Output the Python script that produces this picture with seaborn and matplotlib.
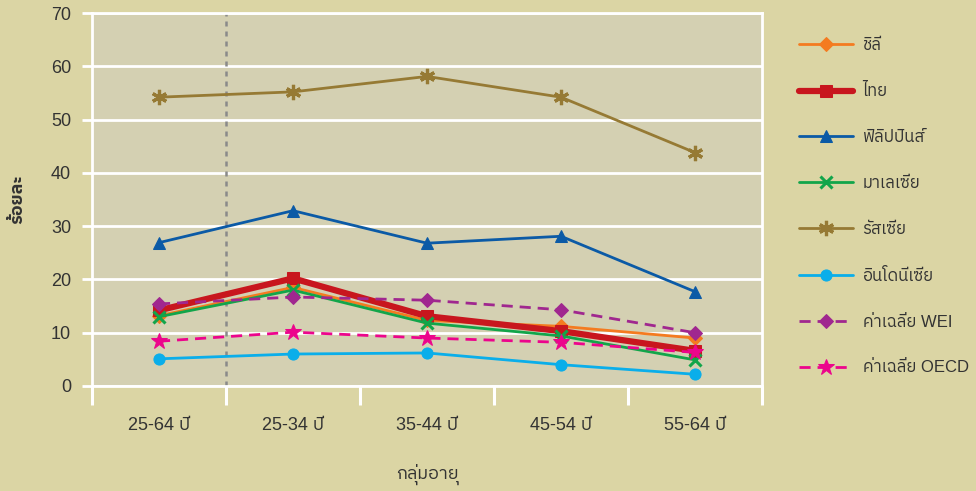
import matplotlib
matplotlib.use("Agg")
import matplotlib.pyplot as plt
from matplotlib import font_manager, ft2font
from matplotlib.ticker import FixedLocator
import seaborn as sns
import pandas as pd

# Age groups on the x axis
age_groups = ["25-64 ปี", "25-34 ปี", "35-44 ปี", "45-54 ปี", "55-64 ปี"]

# Percentages per country / benchmark
chile = [13.2, 18.5, 12.3, 11.2, 9.0]
thailand = [14.2, 20.2, 13.1, 10.3, 6.6]
philippines = [26.9, 32.9, 26.8, 28.1, 17.7]
malaysia = [13.0, 18.0, 11.8, 9.4, 4.9]
russia = [54.2, 55.2, 58.1, 54.2, 43.8]
indonesia = [5.1, 6.0, 6.2, 4.0, 2.2]
wei_avg = [15.4, 16.7, 16.1, 14.3, 10.0]
oecd_avg = [8.4, 10.1, 9.0, 8.2, 6.3]

series_names = ["ชิลี", "ไทย", "ฟิลิปปินส์", "มาเลเซีย", "รัสเซีย",
                "อินโดนีเซีย", "ค่าเฉลี่ย WEI", "ค่าเฉลี่ย OECD"]
series_values = [chile, thailand, philippines, malaysia, russia,
                 indonesia, wei_avg, oecd_avg]

x_title = "กลุ่มอายุ"
y_title = "ร้อยละ"
y_ticks = [0, 10, 20, 30, 40, 50, 60, 70]


def find_thai_family():
    preferred = []
    others = []
    for f in font_manager.fontManager.ttflist:
        try:
            cmap = ft2font.FT2Font(f.fname).get_charmap()
        except Exception:
            continue
        if 0x0E23 in cmap and 0x0E1B in cmap:
            if "sans" in f.name.lower() and "mono" not in f.name.lower():
                preferred.append(f.name)
            else:
                others.append(f.name)
    for lst in (preferred, others):
        if lst:
            return lst[0]
    return None


sns.set_theme(style="white")
thai = find_thai_family()
families = ["Liberation Sans"]
if thai:
    families.append(thai)
families.append("DejaVu Sans")
plt.rcParams["font.family"] = families

OUTER_BG = "#DBD5A4"
PLOT_BG = "#D4D0B2"
TEXT = "#333333"

styles = [
    dict(color="#F47B20", marker="D", markersize=7, linewidth=2.0, linestyle="-"),
    dict(color="#C8161E", marker="s", markersize=8, linewidth=4.5, linestyle="-"),
    dict(color="#0B5AA6", marker="^", markersize=9, linewidth=2.0, linestyle="-"),
    dict(color="#12A54A", marker="x", markersize=9, markeredgewidth=2.2, linewidth=2.0, linestyle="-"),
    dict(color="#967A34", marker=(6, 2, 0), markersize=11, markeredgewidth=2.3, linewidth=2.0, linestyle="-"),
    dict(color="#0AAEEA", marker="o", markersize=8, linewidth=2.0, linestyle="-"),
    dict(color="#A0278F", marker="D", markersize=7, linewidth=2.0, linestyle=(0, (4, 2.5))),
    dict(color="#EC058C", marker="*", markersize=12, linewidth=2.0, linestyle=(0, (4, 2.5))),
]

rows = []
for name, vals in zip(series_names, series_values):
    for g, v in zip(age_groups, vals):
        rows.append({"group": g, "value": v, "series": name})
df = pd.DataFrame(rows)

fig = plt.figure(figsize=(9.76, 4.91), dpi=100, facecolor=OUTER_BG)
ax = fig.add_axes([92 / 976, 1 - 386 / 491, (762 - 92) / 976, (386 - 13) / 491])
ax.set_facecolor(PLOT_BG)

# reference divider between the overall group and the age bands
ax.axvline(0.5, color="#8A8A8A", linestyle=(0, (2, 2)), linewidth=1.8, zorder=1)

for name, st in zip(series_names, styles):
    sub = df[df["series"] == name]
    sns.lineplot(data=sub, x="group", y="value", ax=ax, label=name,
                 markeredgecolor=st["color"], zorder=3, **st)

ax.set_xlim(-0.5, 4.5)
ax.set_ylim(0, 70)
ax.set_yticks(y_ticks)
ax.set_yticklabels([str(t) for t in y_ticks], fontsize=13, color=TEXT)
ax.yaxis.grid(True, color="white", linewidth=2)
ax.set_axisbelow(True)

ax.set_xticks(range(len(age_groups)))
ax.set_xticklabels(age_groups, fontsize=13, color=TEXT)
ax.xaxis.set_minor_locator(FixedLocator([i - 0.5 for i in range(len(age_groups) + 1)]))
ax.tick_params(axis="x", which="major", length=0, pad=22)
ax.tick_params(axis="x", which="minor", length=14, width=2.2, color="white", bottom=True)
ax.tick_params(axis="y", which="major", length=7, width=2, color="white", left=True, pad=8)

for s in ax.spines.values():
    s.set_color("white")
    s.set_linewidth(2)

ax.set_xlabel(x_title, fontsize=13, color=TEXT, labelpad=22)
ax.set_ylabel(y_title, fontsize=13, color=TEXT, fontweight="bold", labelpad=18)

handles, labels = ax.get_legend_handles_labels()
ax.legend_.remove()
fig.legend(handles, labels, loc="upper left", bbox_to_anchor=(0.812, 0.937),
           frameon=False, fontsize=12, handlelength=3.2, labelspacing=1.85,
           handletextpad=0.6, labelcolor=TEXT, borderaxespad=0)

fig.savefig("out.png", dpi=100, facecolor=OUTER_BG)
